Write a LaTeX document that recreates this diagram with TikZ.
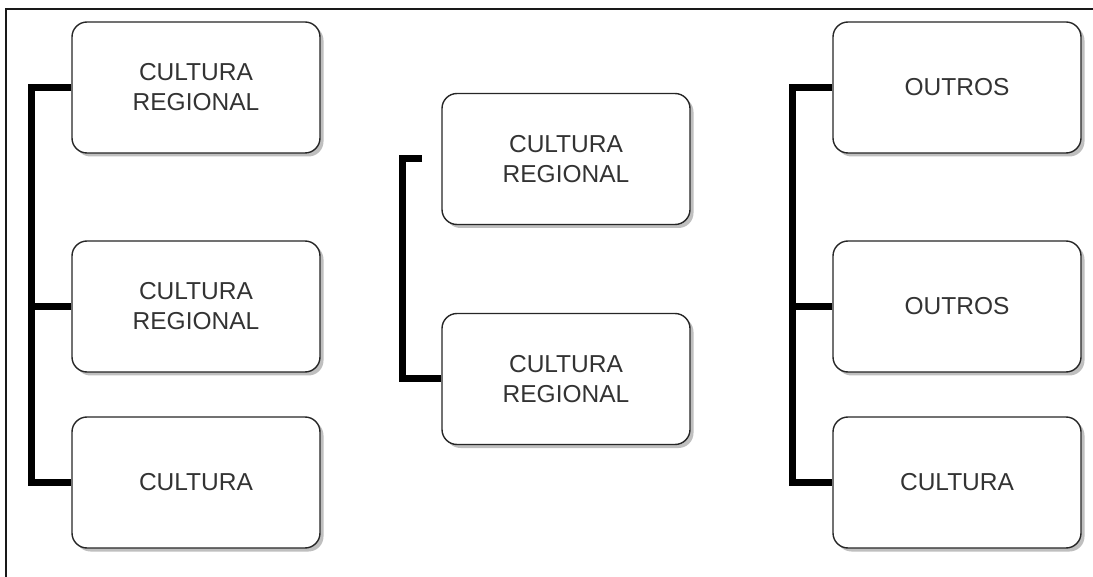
\documentclass[tikz,border=0pt]{standalone}
\usepackage{fontspec}
\setmainfont{Liberation Sans}
\usetikzlibrary{shadows}
\begin{document}
\begin{tikzpicture}[x=1pt, y=-1pt,
  card/.style={draw=black!85, line width=1.4pt, fill=white, rounded corners=15pt,
    minimum width=248pt, minimum height=131pt, align=center, inner sep=0pt,
    text=black!80, font=\fontsize{24.5pt}{30pt}\selectfont,
    drop shadow={shadow xshift=3.5pt, shadow yshift=-3.5pt, fill=black!25, opacity=1}},
  bracket/.style={line width=7pt, black, line join=miter, line cap=butt},
  frame/.style={line width=1.5pt, black!90}]
  \useasboundingbox (0,0) rectangle (1093,577);
  % open frame along the left and top edges
  \draw[frame] (6,577) -- (6,9) -- (1093,9);

  % left column
  \node[card] (l1) at (196,87.5)  {CULTURA\\REGIONAL};
  \node[card] (l2) at (196,306.5) {CULTURA\\REGIONAL};
  \node[card] (l3) at (196,482.5) {CULTURA};

  % middle column
  \node[card] (m1) at (566,159) {CULTURA\\REGIONAL};
  \node[card] (m2) at (566,379) {CULTURA\\REGIONAL};

  % right column
  \node[card] (r1) at (957,87.5)  {OUTROS};
  \node[card] (r2) at (957,306.5) {OUTROS};
  \node[card] (r3) at (957,482.5) {CULTURA};

  % spines of the brackets
  \coordinate (lspine) at (31,0);
  \coordinate (rspine) at (792,0);
  \coordinate (mstub) at (422,159);
  \coordinate (mspine) at (402,0);

  \draw[bracket] (l1.west) -| (lspine |- l3.west) -- (l3.west);
  \draw[bracket] (l2.west) -- (lspine |- l2.west);

  \draw[bracket] (mstub) -| (mspine |- m2.west) -- (m2.west);

  \draw[bracket] (r1.west) -| (rspine |- r3.west) -- (r3.west);
  \draw[bracket] (r2.west) -- (rspine |- r2.west);
\end{tikzpicture}
\end{document}
